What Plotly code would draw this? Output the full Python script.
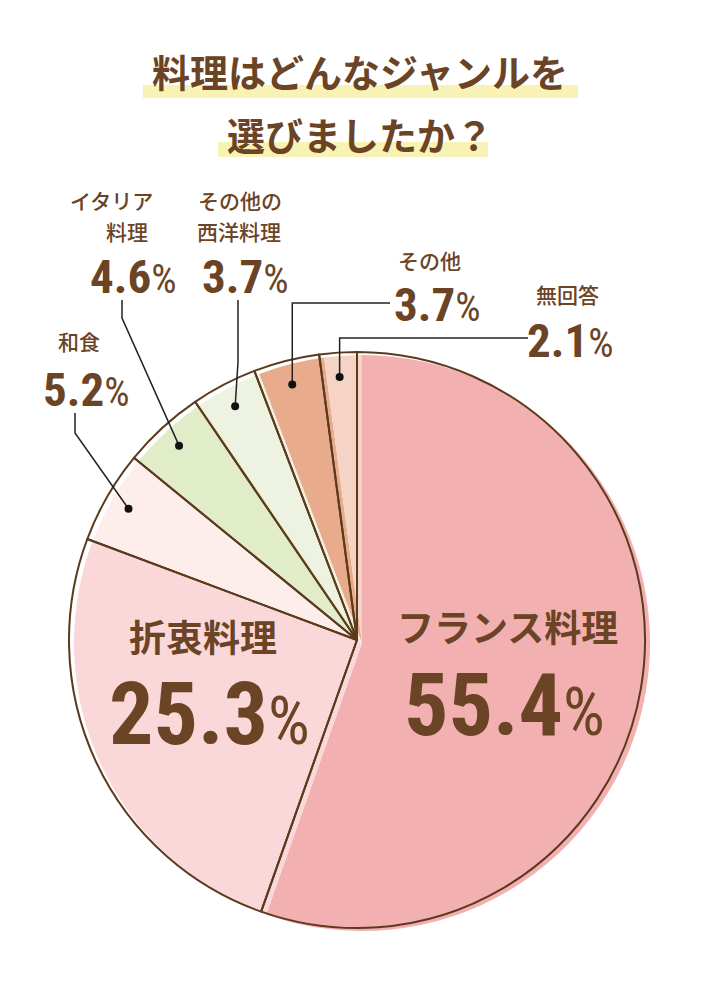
import math
import plotly.graph_objects as go

# ---- data ----
labels = ["フランス料理", "折衷料理", "和食", "イタリア料理", "その他の西洋料理", "その他", "無回答"]
values = [55.4, 25.3, 5.2, 4.6, 3.7, 3.7, 2.1]
label_display = ["フランス料理", "折衷料理", "和食", "イタリア<br>料理", "その他の<br>西洋料理", "その他", "無回答"]
title_lines = ["料理はどんなジャンルを", "選びましたか？"]

# ---- styles ----
colors = ["#F3B0B1", "#FAD7D9", "#FDEEEC", "#E1ECC9", "#EEF3E1", "#E8AC8C", "#F5D4C5"]
W, H = 720, 1000
CX, CY, R = 357, 640, 288
OFF = (5, 3)
BROWN = "#5C3A1E"
TEXT = "#6B4325"
LINE = "#222222"
JP = "Noto Sans CJK JP"
NUM = "Roboto Condensed, Open Sans, Liberation Sans, sans-serif"


def px(x):
    return x / W


def py(y):
    return 1 - y / H


def domain(cx, cy, r):
    return dict(x=[px(cx - r), px(cx + r)], y=[py(cy + r), py(cy - r)])


fig = go.Figure()
fig.add_trace(go.Pie(
    labels=labels, values=values, sort=False, direction="clockwise", rotation=0,
    marker=dict(colors=colors, line=dict(width=0)),
    textinfo="none", hoverinfo="skip", showlegend=False,
    domain=domain(CX + OFF[0], CY + OFF[1], R)))
fig.add_trace(go.Pie(
    labels=labels, values=values, sort=False, direction="clockwise", rotation=0,
    marker=dict(colors=["rgba(0,0,0,0)"] * len(values), line=dict(color=BROWN, width=2)),
    textinfo="none", hoverinfo="skip", showlegend=False,
    domain=domain(CX, CY, R)))

shapes = []
annotations = []

# title highlight bands
for (x0, y0, x1, y1) in [(143, 85, 578, 98), (218, 142, 488, 157)]:
    shapes.append(dict(type="rect", xref="paper", yref="paper", layer="below",
                       x0=px(x0), x1=px(x1), y0=py(y1), y1=py(y0),
                       fillcolor="#F8F3B4", line=dict(width=0)))

for text, y in zip(title_lines, [70, 133]):
    annotations.append(dict(text=text, x=px(360), y=py(y), xref="paper", yref="paper",
                            showarrow=False, xanchor="center", yanchor="middle",
                            font=dict(family=JP, size=38, color=TEXT, weight="bold")))

# dot positions from the data (mid-angle of each slice)
total = sum(values)
cum = 0
dots = []
for v in values:
    mid = (cum + v / 2) / total
    cum += v
    th = 2 * math.pi * mid
    rd = 0.915 * R
    dots.append((CX + rd * math.sin(th), CY - rd * math.cos(th)))


def num_text(v, pct):
    return (f"<span style='font-stretch:condensed'>{v:.1f}</span>"
            f"<span style='font-size:{pct}px;font-weight:normal;font-stretch:condensed'>%</span>")


# main labels inside the pie
main = {0: ((507, 626), (505, 704)), 1: ((203, 636), (209, 713))}
for i, ((nx, ny), (vx, vy)) in main.items():
    annotations.append(dict(text=label_display[i], x=px(nx), y=py(ny), xref="paper", yref="paper",
                            showarrow=False, xanchor="center", yanchor="middle",
                            font=dict(family=JP, size=37, color=TEXT, weight="bold")))
    annotations.append(dict(text=num_text(values[i], 66), x=px(vx), y=py(vy), xref="paper", yref="paper",
                            showarrow=False, xanchor="center", yanchor="middle",
                            font=dict(family=NUM, size=88, color=TEXT, weight="bold")))

# outside labels: name line centres, number centre, leader start / elbow
outside = {
    2: ([(79, 341)], (86, 389), [(75, 413), (75, 433)]),
    3: ([(111, 200), (127, 230.5)], (133, 276), [(122, 300), (122, 318)]),
    4: ([(240, 200), (239, 230.5)], (245, 276), [(238, 300), (238, 362)]),
    5: ([(429, 260)], (437, 305), [(390, 303), (None, 303)]),
    6: ([(567, 294)], (570, 341), [(528, 338), (None, 338)]),
}
for i, (name_pos, (vx, vy), pts) in outside.items():
    for line_text, (nx, ny) in zip(label_display[i].split("<br>"), name_pos):
        annotations.append(dict(text=line_text, x=px(nx), y=py(ny), xref="paper", yref="paper",
                                showarrow=False, xanchor="center", yanchor="middle",
                                font=dict(family=JP, size=21, color=TEXT, weight=500)))
    annotations.append(dict(text=num_text(values[i], 40), x=px(vx), y=py(vy), xref="paper", yref="paper",
                            showarrow=False, xanchor="center", yanchor="middle",
                            font=dict(family=NUM, size=47, color=TEXT, weight="bold")))
    dx, dy = dots[i]
    path_pts = [((dx if x is None else x), y) for (x, y) in pts] + [(dx, dy)]
    path = "M " + " L ".join(f"{px(x):.5f},{py(y):.5f}" for x, y in path_pts)
    shapes.append(dict(type="path", xref="paper", yref="paper", path=path,
                       line=dict(color=LINE, width=1.5)))
    rr = 4
    shapes.append(dict(type="circle", xref="paper", yref="paper",
                       x0=px(dx - rr), x1=px(dx + rr), y0=py(dy + rr), y1=py(dy - rr),
                       fillcolor="#111111", line=dict(width=0)))

fig.update_layout(
    width=W, height=H, margin=dict(l=0, r=0, t=0, b=0),
    paper_bgcolor="white", plot_bgcolor="white",
    shapes=shapes, annotations=annotations, showlegend=False,
)
fig.write_html("out.html")
